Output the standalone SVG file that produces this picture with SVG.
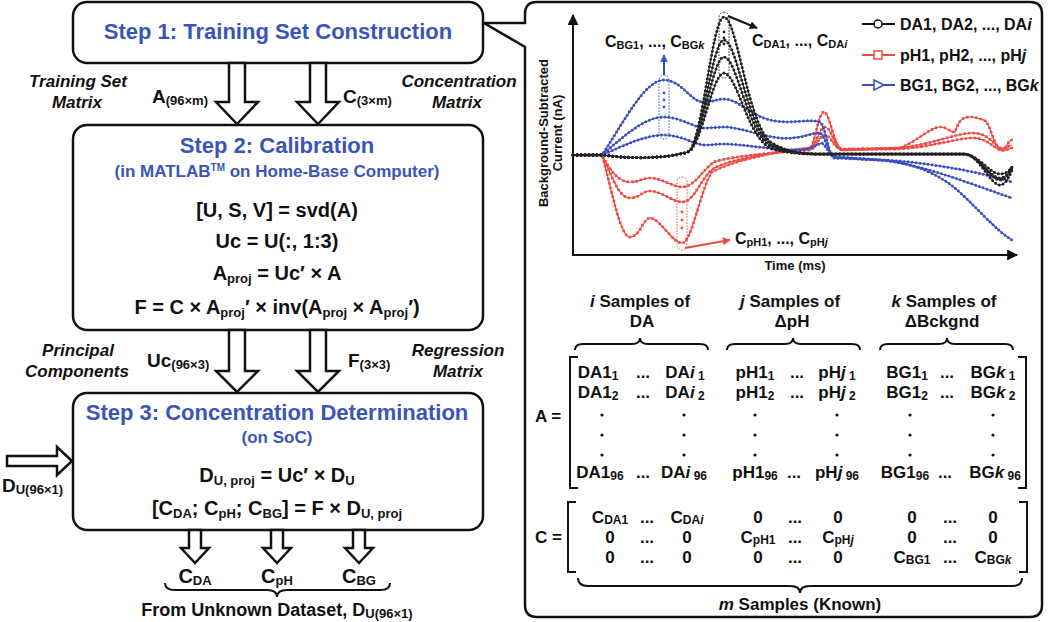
<svg xmlns="http://www.w3.org/2000/svg" xmlns:xlink="http://www.w3.org/1999/xlink" width="1050" height="622" viewBox="0 0 1050 622">
<style>
.box{fill:#fff;stroke:#111;stroke-width:2.5}
.t{font-family:"Liberation Sans",Arial,sans-serif;font-weight:bold;fill:#111}
.title{font-size:22px;fill:#3a55b8;text-anchor:middle}
.sub{font-size:17px;fill:#3a55b8;text-anchor:middle}
.eq{font-size:20px;text-anchor:middle}
.lab{font-size:17px;font-style:italic;text-anchor:middle}
.var{font-size:19px}
.s{font-size:13px}
.ha{fill:#fff;stroke:#111;stroke-width:2.5;stroke-linejoin:miter}
.ax{fill:none;stroke:#111;stroke-width:2}
.lnK{fill:none;stroke:#222;stroke-width:1}
.dtK{fill:none;stroke:#222;stroke-width:3;stroke-dasharray:0 4;stroke-linecap:round}
.lnR{fill:none;stroke:#ee4a44;stroke-width:1.2}
.dtR{fill:none;stroke:#ee4a44;stroke-width:2.6;stroke-dasharray:0 4.5;stroke-linecap:square}
.lnB{fill:none;stroke:#3b50c0;stroke-width:1.2}
.dtB{fill:none;stroke:#3b50c0;stroke-width:3;stroke-dasharray:0 4;stroke-linecap:round}
.ell{fill:none;stroke-width:1;stroke-dasharray:1.5 1.5}
.m{font-size:17px;text-anchor:middle}
.ms{font-size:12px}
.hd{font-size:17px;text-anchor:middle}
.lg{font-size:16px}
.axl{font-size:13px;text-anchor:middle}
.an{font-size:16px}
.ans{font-size:11px}
.br{fill:none;stroke:#111;stroke-width:2}
.it{font-style:italic}
</style>
<defs>
<marker id="ahK" viewBox="0 0 10 10" refX="9" refY="5" markerWidth="8" markerHeight="8" markerUnits="userSpaceOnUse" orient="auto"><path d="M0,0L10,5L0,10z" fill="#111"/></marker>
<marker id="ahB" viewBox="0 0 10 10" refX="9" refY="5" markerWidth="8" markerHeight="8" markerUnits="userSpaceOnUse" orient="auto"><path d="M0,0L10,5L0,10z" fill="#3b50c0"/></marker>
<marker id="ahR" viewBox="0 0 10 10" refX="9" refY="5" markerWidth="8" markerHeight="8" markerUnits="userSpaceOnUse" orient="auto"><path d="M0,0L10,5L0,10z" fill="#ee4a44"/></marker>
<marker id="ahA" viewBox="0 0 10 10" refX="9" refY="5" markerWidth="11" markerHeight="11" markerUnits="userSpaceOnUse" orient="auto"><path d="M0,0L10,5L0,10z" fill="#111"/></marker>
<path id="r1" d="M573,155 L602,155 C612,190 620,237 630,237 C640,237 643,218 650,218 C660,218 672,243 682,243 C692,243 700,190 712,172 C730,162 770,152 810,148 C815,146 818,112 824,112 C830,112 834,148 842,150 L900,148 C920,140 930,127 940,127 C948,127 950,133 955,132 C960,117 965,117 970,117 C978,117 982,120 986,121 C992,130 995,150 1002,150 C1006,150 1008,140 1012,140"/>
<path id="r2" d="M573,155 L602,155 C612,175 618,198 630,198 C640,198 642,191 650,191 C662,191 672,202 682,202 C695,202 700,178 714,168 C735,158 775,152 810,148 C816,147 819,127 825,127 C831,127 834,147 842,149 L900,148 C930,145 950,135 970,133 C985,132 990,140 1000,148 C1005,150 1009,145 1012,145"/>
<path id="r3" d="M573,155 L602,155 C610,170 618,182 630,182 C640,182 642,178 650,178 C662,178 672,187 682,187 C695,187 702,170 714,162 C735,155 775,153 810,150 C816,149 819,135 825,135 C831,135 834,149 842,150 L900,149 C930,147 950,140 970,138 C985,137 990,145 1000,150 C1005,152 1009,148 1012,148"/>
<path id="b1" d="M573,155 L602,155 C625,120 645,80 664,80 C682,80 690,102 704,102 C714,102 716,99 724,99 C738,99 750,115 770,120 C790,125 810,118 820,122 C826,126 828,155 834,158 L880,160 C910,162 935,172 955,188 C975,205 995,230 1012,240"/>
<path id="b2" d="M573,155 L602,155 C625,135 645,117 664,117 C680,117 695,128 705,128 C712,128 716,127 724,127 C740,127 760,136 780,138 C800,140 812,132 820,133 C826,136 828,155 834,157 L880,160 C920,164 960,180 1012,198"/>
<path id="b3" d="M573,155 L602,155 C625,145 645,135 664,135 C682,135 695,145 705,145 C712,145 716,144 724,144 C745,144 770,150 800,150 C810,150 815,145 822,143 C828,148 830,156 836,157 L900,161 C940,165 980,172 1012,182"/>
<path id="k1" d="M573,155 L602,155 C625,158 660,160 688,152 C702,146 712,17 724,17 C737,17 748,128 772,143 C788,152 800,154 820,154 L965,154 C980,156 990,174 1000,174 C1006,174 1010,170 1012,167"/>
<path id="k2" d="M573,155 L602,155 C625,158 660,160 688,152 C702,146 712,40 724,40 C737,40 748,132 772,145 C788,152 800,154 820,154 L965,154 C980,156 990,180 1000,180 C1006,180 1010,172 1012,168"/>
<path id="k3" d="M573,155 L602,155 C625,158 660,160 688,152 C702,146 712,57 724,57 C737,57 748,136 772,147 C788,152 800,154 820,154 L965,154 C980,156 990,185 1000,185 C1006,185 1010,175 1012,170"/>
<path id="k4" d="M573,155 L602,155 C625,158 660,160 688,152 C702,146 712,73 724,73 C737,73 748,140 772,149 C788,153 800,154 820,154 L965,154 C980,156 990,178 1000,178 C1006,178 1010,171 1012,166"/>
</defs>
<rect width="1050" height="622" fill="#fff"/>

<g id="panel">
<path class="box" d="M525,23 L525,14 Q525,2 537,2 L1030,2 Q1042,2 1042,14 L1042,605 Q1042,617 1030,617 L537,617 Q525,617 525,605 L525,47 L484,23 Z"/>
</g>

<g id="step1">
<rect class="box" x="73" y="2" width="410" height="61" rx="14"/>
<text class="t title" x="278" y="39">Step 1: Training Set Construction</text>
</g>

<g id="step2">
<rect class="box" x="73" y="125" width="410" height="205" rx="14"/>
<text class="t title" x="277" y="153">Step 2: Calibration</text>
<text class="t sub" x="277" y="177">(in MATLAB<tspan font-size="10" dy="-6">TM</tspan><tspan dy="6"> on Home-Base Computer)</tspan></text>
<text class="t eq" x="277" y="217">[U, S, V] = svd(A)</text>
<text class="t eq" x="277" y="248">Uc = U(:, 1:3)</text>
<text class="t eq" x="277" y="280">A<tspan class="s" dy="3">proj</tspan><tspan dy="-3"> = Uc′ × A</tspan></text>
<text class="t eq" x="277" y="314">F = C × A<tspan class="s" dy="3">proj</tspan><tspan dy="-3">′ × inv(A</tspan><tspan class="s" dy="3">proj</tspan><tspan dy="-3"> × A</tspan><tspan class="s" dy="3">proj</tspan><tspan dy="-3">′)</tspan></text>
</g>

<g id="step3">
<rect class="box" x="73" y="393" width="410" height="137" rx="14"/>
<text class="t title" x="277" y="420">Step 3: Concentration Determination</text>
<text class="t sub" x="277" y="443">(on SoC)</text>
<text class="t eq" x="277" y="482">D<tspan class="s" dy="3">U, proj</tspan><tspan dy="-3"> = Uc′ × D</tspan><tspan class="s" dy="3">U</tspan></text>
<text class="t eq" x="277" y="515">[C<tspan class="s" dy="3">DA</tspan><tspan dy="-3">; C</tspan><tspan class="s" dy="3">pH</tspan><tspan dy="-3">; C</tspan><tspan class="s" dy="3">BG</tspan><tspan dy="-3">] = F × D</tspan><tspan class="s" dy="3">U, proj</tspan></text>
</g>

<g id="connectors">
<polygon class="ha" points="229,63 229,102 216,102 237,124 258,102 245,102 245,63"/>
<polygon class="ha" points="310,63 310,102 297,102 318,124 339,102 326,102 326,63"/>
<polygon class="ha" points="229,330 229,371 216,371 237,392 258,371 245,371 245,330"/>
<polygon class="ha" points="310,330 310,371 297,371 318,392 339,371 326,371 326,330"/>
<polygon class="ha" points="7,456 57,456 57,447 72,461 57,475 57,466 7,466"/>
<polygon class="ha" points="189,530 189,548 181,548 195,563 209,548 201,548 201,530"/>
<polygon class="ha" points="271,530 271,548 263,548 277,563 291,548 283,548 283,530"/>
<polygon class="ha" points="353,530 353,548 345,548 359,563 373,548 365,548 365,530"/>
</g>

<g id="connector-labels">
<text class="t lab" x="78" y="87">Training Set</text>
<text class="t lab" x="77" y="108">Matrix</text>
<text class="t var" x="152" y="103">A<tspan class="s" dy="2">(96×m)</tspan></text>
<text class="t var" x="343" y="103">C<tspan class="s" dy="2">(3×m)</tspan></text>
<text class="t lab" x="459" y="87">Concentration</text>
<text class="t lab" x="457" y="108">Matrix</text>
<text class="t lab" x="78" y="356">Principal</text>
<text class="t lab" x="77" y="377">Components</text>
<text class="t var" x="147" y="367">Uc<tspan class="s" dy="2">(96×3)</tspan></text>
<text class="t var" x="348" y="367">F<tspan class="s" dy="2">(3×3)</tspan></text>
<text class="t lab" x="458" y="356">Regression</text>
<text class="t lab" x="458" y="377">Matrix</text>
<text class="t var" x="2" y="492">D<tspan class="s" dy="2">U(96×1)</tspan></text>
<text class="t eq" x="195" y="583">C<tspan class="s" dy="2">DA</tspan></text>
<text class="t eq" x="277" y="583">C<tspan class="s" dy="2">pH</tspan></text>
<text class="t eq" x="359" y="583">C<tspan class="s" dy="2">BG</tspan></text>
<path class="br" d="M165,583 Q165,590 175,590 L267,590 Q277,590 277,597 Q277,590 287,590 L380,590 Q390,590 390,583"/>
<text class="t" x="277" y="616" font-size="18" text-anchor="middle">From Unknown Dataset, D<tspan class="s" dy="2">U(96×1)</tspan></text>
</g>

<g id="chart">
<line class="ax" x1="573" y1="255" x2="573" y2="15" marker-end="url(#ahA)"/>
<line class="ax" x1="572" y1="255" x2="1017" y2="255" marker-end="url(#ahA)"/>
<text class="t axl" transform="translate(548,133) rotate(-90)">Background-Subtracted</text>
<text class="t axl" transform="translate(562,133) rotate(-90)">Current (nA)</text>
<text class="t axl" x="795" y="270">Time (ms)</text>
<use href="#r1" class="lnR"/><use href="#r1" class="dtR"/>
<use href="#r2" class="lnR"/><use href="#r2" class="dtR"/>
<use href="#r3" class="lnR"/><use href="#r3" class="dtR"/>
<use href="#b1" class="lnB"/><use href="#b1" class="dtB"/>
<use href="#b2" class="lnB"/><use href="#b2" class="dtB"/>
<use href="#b3" class="lnB"/><use href="#b3" class="dtB"/>
<use href="#k1" class="lnK"/><use href="#k1" class="dtK"/>
<use href="#k2" class="lnK"/><use href="#k2" class="dtK"/>
<use href="#k3" class="lnK"/><use href="#k3" class="dtK"/>
<use href="#k4" class="lnK"/><use href="#k4" class="dtK"/>
<rect class="ell" x="719" y="12" width="10" height="66" rx="5" stroke="#222"/>
<rect class="ell" x="659" y="75" width="10" height="64" rx="5" stroke="#3b50c0"/>
<rect class="ell" x="677" y="177" width="10" height="73" rx="5" stroke="#ee4a44"/>
<g fill="#222"><circle cx="724" cy="32" r="1.4"/><circle cx="724" cy="38" r="1.4"/><circle cx="724" cy="44" r="1.4"/></g>
<g fill="#3b50c0"><circle cx="664" cy="93" r="1.4"/><circle cx="664" cy="100" r="1.4"/><circle cx="664" cy="107" r="1.4"/></g>
<g fill="#ee4a44"><circle cx="682" cy="212" r="1.4"/><circle cx="682" cy="220" r="1.4"/><circle cx="682" cy="228" r="1.4"/></g>
<line x1="664" y1="75" x2="664" y2="55" stroke="#3b50c0" stroke-width="2" marker-end="url(#ahB)"/>
<line x1="728" y1="16" x2="757" y2="28" stroke="#111" stroke-width="2" marker-end="url(#ahK)"/>
<line x1="685" y1="248" x2="730" y2="240" stroke="#ee4a44" stroke-width="2" marker-end="url(#ahR)"/>
<text class="t an" x="605" y="47" fill="#3b50c0">C<tspan class="ans" dy="2">BG1</tspan><tspan dy="-2">, ..., C</tspan><tspan class="ans" dy="2">BG<tspan class="it">k</tspan></tspan></text>
<text class="t an" x="752" y="46">C<tspan class="ans" dy="2">DA1</tspan><tspan dy="-2">, ..., C</tspan><tspan class="ans" dy="2">DA<tspan class="it">i</tspan></tspan></text>
<text class="t an" x="735" y="244" fill="#ee4a44">C<tspan class="ans" dy="2">pH1</tspan><tspan dy="-2">, ..., C</tspan><tspan class="ans" dy="2">pH<tspan class="it">j</tspan></tspan></text>
</g>

<g id="legend">
<line x1="862" y1="24" x2="895" y2="24" stroke="#111" stroke-width="1.8"/>
<circle cx="878" cy="24" r="4" fill="#fff" stroke="#111" stroke-width="1.5"/>
<text class="t lg" x="900" y="30">DA1, DA2, ..., DA<tspan class="it">i</tspan></text>
<line x1="862" y1="55" x2="895" y2="55" stroke="#ee4a44" stroke-width="1.8"/>
<rect x="874" y="51" width="8" height="8" fill="#fff" stroke="#ee4a44" stroke-width="1.5"/>
<text class="t lg" x="900" y="61">pH1, pH2, ..., pH<tspan class="it">j</tspan></text>
<line x1="862" y1="85" x2="895" y2="85" stroke="#3b50c0" stroke-width="1.8"/>
<polygon points="874,80 884,85 874,90" fill="#fff" stroke="#3b50c0" stroke-width="1.5"/>
<text class="t lg" x="900" y="91">BG1, BG2, ..., BG<tspan class="it">k</tspan></text>
</g>

<g id="matrixA">
<text class="t hd" x="640" y="307"><tspan class="it">i</tspan> Samples of</text>
<text class="t hd" x="642" y="327">DA</text>
<text class="t hd" x="790" y="307"><tspan class="it">j</tspan> Samples of</text>
<text class="t hd" x="792" y="327">ΔpH</text>
<text class="t hd" x="944" y="307"><tspan class="it">k</tspan> Samples of</text>
<text class="t hd" x="942" y="327">ΔBckgnd</text>
<path class="br" d="M575,350 Q575,344 583,344 L632,344 Q640,344 640,338 Q640,344 648,344 L700,344 Q708,344 708,350"/>
<path class="br" d="M727,350 Q727,344 735,344 L785,344 Q793,344 793,338 Q793,344 801,344 L852,344 Q860,344 860,350"/>
<path class="br" d="M880,350 Q880,344 888,344 L939,344 Q947,344 947,338 Q947,344 955,344 L1005,344 Q1013,344 1013,350"/>
<text class="t" x="535" y="422" font-size="17">A =</text>
<path class="br" d="M578,357 L570,357 L570,488 L578,488"/>
<path class="br" d="M1018,357 L1026,357 L1026,488 L1018,488"/>
<g class="t m">
<text x="598" y="378">DA1<tspan class="ms" dy="2">1</tspan></text>
<text x="643" y="378">...</text>
<text x="685" y="378">DA<tspan class="it">i</tspan><tspan class="ms" dy="2"> 1</tspan></text>
<text x="755" y="378">pH1<tspan class="ms" dy="2">1</tspan></text>
<text x="797" y="378">...</text>
<text x="837" y="378">pH<tspan class="it">j</tspan><tspan class="ms" dy="2"> 1</tspan></text>
<text x="907" y="378">BG1<tspan class="ms" dy="2">1</tspan></text>
<text x="947" y="378">...</text>
<text x="993" y="378">BG<tspan class="it">k</tspan><tspan class="ms" dy="2"> 1</tspan></text>
<text x="598" y="398">DA1<tspan class="ms" dy="2">2</tspan></text>
<text x="643" y="398">...</text>
<text x="685" y="398">DA<tspan class="it">i</tspan><tspan class="ms" dy="2"> 2</tspan></text>
<text x="755" y="398">pH1<tspan class="ms" dy="2">2</tspan></text>
<text x="797" y="398">...</text>
<text x="837" y="398">pH<tspan class="it">j</tspan><tspan class="ms" dy="2"> 2</tspan></text>
<text x="907" y="398">BG1<tspan class="ms" dy="2">2</tspan></text>
<text x="947" y="398">...</text>
<text x="993" y="398">BG<tspan class="it">k</tspan><tspan class="ms" dy="2"> 2</tspan></text>
<text x="600" y="478">DA1<tspan class="ms" dy="2">96</tspan></text>
<text x="643" y="478">...</text>
<text x="684" y="478">DA<tspan class="it">i</tspan><tspan class="ms" dy="2"> 96</tspan></text>
<text x="755" y="478">pH1<tspan class="ms" dy="2">96</tspan></text>
<text x="794" y="478">...</text>
<text x="837" y="478">pH<tspan class="it">j</tspan><tspan class="ms" dy="2"> 96</tspan></text>
<text x="905" y="478">BG1<tspan class="ms" dy="2">96</tspan></text>
<text x="945" y="478">...</text>
<text x="995" y="478">BG<tspan class="it">k</tspan><tspan class="ms" dy="2"> 96</tspan></text>
</g>
<g fill="#111">
<circle cx="602" cy="415" r="1.6"/><circle cx="602" cy="435" r="1.6"/><circle cx="602" cy="455" r="1.6"/>
<circle cx="684" cy="415" r="1.6"/><circle cx="684" cy="435" r="1.6"/><circle cx="684" cy="455" r="1.6"/>
<circle cx="755" cy="415" r="1.6"/><circle cx="755" cy="435" r="1.6"/><circle cx="755" cy="455" r="1.6"/>
<circle cx="837" cy="415" r="1.6"/><circle cx="837" cy="435" r="1.6"/><circle cx="837" cy="455" r="1.6"/>
<circle cx="910" cy="415" r="1.6"/><circle cx="910" cy="435" r="1.6"/><circle cx="910" cy="455" r="1.6"/>
<circle cx="993" cy="415" r="1.6"/><circle cx="993" cy="435" r="1.6"/><circle cx="993" cy="455" r="1.6"/>
</g>
</g>

<g id="matrixC">
<text class="t" x="535" y="543" font-size="17">C =</text>
<path class="br" d="M576,502 L568,502 L568,572 L576,572"/>
<path class="br" d="M1019,502 L1027,502 L1027,572 L1019,572"/>
<g class="t m">
<text x="610" y="523">C<tspan class="ms" dy="1">DA1</tspan></text>
<text x="647" y="523">...</text>
<text x="687" y="523">C<tspan class="ms" dy="1">DA<tspan class="it">i</tspan></tspan></text>
<text x="758" y="523">0</text>
<text x="795" y="523">...</text>
<text x="838" y="523">0</text>
<text x="912" y="523">0</text>
<text x="950" y="523">...</text>
<text x="993" y="523">0</text>
<text x="610" y="543">0</text>
<text x="647" y="543">...</text>
<text x="687" y="543">0</text>
<text x="758" y="543">C<tspan class="ms" dy="1">pH1</tspan></text>
<text x="795" y="543">...</text>
<text x="838" y="543">C<tspan class="ms" dy="1">pH<tspan class="it">j</tspan></tspan></text>
<text x="912" y="543">0</text>
<text x="950" y="543">...</text>
<text x="993" y="543">0</text>
<text x="610" y="563">0</text>
<text x="647" y="563">...</text>
<text x="687" y="563">0</text>
<text x="758" y="563">0</text>
<text x="795" y="563">...</text>
<text x="838" y="563">0</text>
<text x="912" y="563">C<tspan class="ms" dy="1">BG1</tspan></text>
<text x="950" y="563">...</text>
<text x="993" y="563">C<tspan class="ms" dy="1">BG<tspan class="it">k</tspan></tspan></text>
</g>
<path class="br" d="M578,578 Q578,586 588,586 L790,586 Q800,586 800,593 Q800,586 810,586 L1012,586 Q1022,586 1022,578"/>
<text class="t hd" x="800" y="610"><tspan class="it">m</tspan> Samples (Known)</text>
</g>
</svg>
